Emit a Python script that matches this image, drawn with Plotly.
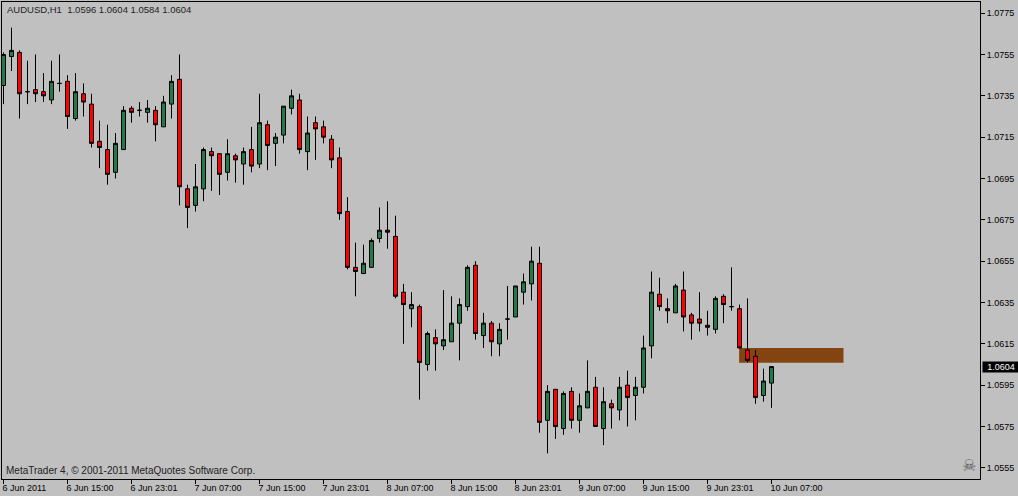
import plotly.graph_objects as go

opens = [1.0740,1.0754,1.0756,1.0737,1.0738,1.0737,1.0733,1.0741,1.0742,1.0724,1.0736,1.0731,1.0713,1.0709,1.0698,1.0709,1.0729,1.0728,1.0727,1.0728,
         1.0720,1.0731,1.0743,1.0690,1.0682,1.0690,1.0708,1.0707,1.0698,1.0706,1.0702,1.0709,1.0702,1.0721,1.0712,1.0716,1.0729,1.0733,1.0708,1.0722,
         1.0720,1.0714,1.0705,1.0679,1.0652,1.0649,1.0652,1.0666,1.0670,1.0667,1.0640,1.0632,1.0633,1.0605,1.0618,1.0614,1.0616,1.0625,1.0633,1.0653,
         1.0619,1.0625,1.0615,1.0627,1.0628,1.0640,1.0644,1.0654,1.0578,1.0593,1.0574,1.0592,1.0578,1.0584,1.0594,1.0574,1.0586,1.0583,1.0595,1.0590,
         1.0594,1.0614,1.0639,1.0632,1.0630,1.0641,1.0629,1.0627,1.0624,1.0622,1.0638,1.0633,1.0632,1.0612,1.0609,1.0590,1.0596]
highs = [1.0756,1.0768,1.0757,1.0752,1.0755,1.0746,1.0752,1.0755,1.0745,1.0746,1.0741,1.0736,1.0723,1.0721,1.0717,1.0730,1.0730,1.0732,1.0733,1.0730,
         1.0735,1.0745,1.0755,1.0692,1.0702,1.0710,1.0710,1.0707,1.0714,1.0707,1.0710,1.0720,1.0736,1.0723,1.0717,1.0730,1.0738,1.0736,1.0725,1.0725,
         1.0723,1.0716,1.0710,1.0686,1.0664,1.0663,1.0666,1.0681,1.0684,1.0677,1.0644,1.0640,1.0634,1.0621,1.0622,1.0641,1.0638,1.0637,1.0653,1.0655,
         1.0630,1.0626,1.0625,1.0643,1.0643,1.0649,1.0662,1.0662,1.0595,1.0593,1.0592,1.0594,1.0591,1.0607,1.0599,1.0594,1.0588,1.0599,1.0602,1.0599,
         1.0619,1.0650,1.0647,1.0637,1.0644,1.0650,1.0630,1.0640,1.0631,1.0638,1.0639,1.0652,1.0634,1.0637,1.0612,1.0603,1.0604]
lows = [1.0731,1.0747,1.0724,1.0731,1.0732,1.0732,1.0731,1.0737,1.0719,1.0723,1.0725,1.0710,1.0700,1.0692,1.0695,1.0709,1.0722,1.0725,1.0722,1.0713,
        1.0720,1.0724,1.0682,1.0671,1.0679,1.0684,1.0689,1.0687,1.0694,1.0693,1.0692,1.0698,1.0700,1.0699,1.0701,1.0712,1.0726,1.0707,1.0699,1.0704,
        1.0712,1.0700,1.0675,1.0651,1.0638,1.0649,1.0652,1.0664,1.0661,1.0637,1.0615,1.0623,1.0588,1.0602,1.0602,1.0612,1.0616,1.0607,1.0631,1.0617,
        1.0613,1.0609,1.0609,1.0617,1.0628,1.0634,1.0636,1.0572,1.0562,1.0569,1.0571,1.0574,1.0572,1.0584,1.0575,1.0566,1.0574,1.0578,1.0575,1.0578,
        1.0591,1.0608,1.0631,1.0625,1.0630,1.0621,1.0617,1.0621,1.0619,1.0620,1.0625,1.0631,1.0613,1.0606,1.0586,1.0587,1.0584]
closes = [1.0755,1.0757,1.0736,1.0737,1.0736,1.0735,1.0742,1.0741,1.0725,1.0737,1.0732,1.0712,1.0710,1.0697,1.0712,1.0728,1.0727,1.0728,1.0729,1.0721,
          1.0732,1.0742,1.0691,1.0681,1.0691,1.0709,1.0706,1.0697,1.0707,1.0704,1.0708,1.0701,1.0722,1.0711,1.0715,1.0730,1.0735,1.0709,1.0717,1.0719,
          1.0715,1.0704,1.0678,1.0652,1.0650,1.0654,1.0665,1.0670,1.0669,1.0638,1.0634,1.0634,1.0606,1.0620,1.0615,1.0617,1.0625,1.0634,1.0652,1.0620,
          1.0625,1.0616,1.0622,1.0627,1.0643,1.0645,1.0655,1.0577,1.0592,1.0575,1.0591,1.0578,1.0585,1.0592,1.0575,1.0587,1.0584,1.0594,1.0589,1.0594,
          1.0613,1.0640,1.0633,1.0631,1.0643,1.0628,1.0625,1.0625,1.0623,1.0637,1.0634,1.0633,1.0613,1.0607,1.0589,1.0597,1.0604]
bars = list(range(len(opens)))

time_ticks = [0, 8, 16, 24, 32, 40, 48, 56, 64, 72, 80, 88, 96]
time_labels = ["6 Jun 2011", "6 Jun 15:00", "6 Jun 23:01", "7 Jun 07:00", "7 Jun 15:00", "7 Jun 23:01",
               "8 Jun 07:00", "8 Jun 15:00", "8 Jun 23:01", "9 Jun 07:00", "9 Jun 15:00", "9 Jun 23:01", "10 Jun 07:00"]
price_ticks = [1.0555, 1.0575, 1.0595, 1.0615, 1.0635, 1.0655, 1.0675, 1.0695, 1.0715, 1.0735, 1.0755, 1.0775]
last_price = 1.0604
zone_bars = [91.95, 105]
zone_prices = [1.06058, 1.0613]

FONT = "Liberation Sans"
fig = go.Figure(go.Candlestick(
    x=bars, open=opens, high=highs, low=lows, close=closes,
    increasing=dict(line=dict(color="black", width=1), fillcolor="#217A4C"),
    decreasing=dict(line=dict(color="black", width=1), fillcolor="#FF0000"),
    whiskerwidth=0, showlegend=False, hoverinfo="skip",
))
fig.add_shape(type="rect", xref="x", yref="y", x0=zone_bars[0], x1=zone_bars[1], y0=zone_prices[0], y1=zone_prices[1],
              fillcolor="#844411", line=dict(width=0), layer="below")
fig.update_layout(
    width=1018, height=496, autosize=False,
    margin=dict(l=2, r=38, t=2, b=17, autoexpand=False),
    paper_bgcolor="#C0C0C0", plot_bgcolor="#C0C0C0",
    font=dict(family=FONT, size=10, color="black"),
    boxgap=0.5, boxgroupgap=0, showlegend=False,
    title=dict(text="AUDUSD,H1  1.0596 1.0604 1.0584 1.0604", x=7/1018, xanchor="left", xref="container",
               y=1-10/496, yanchor="middle", yref="container", font=dict(family=FONT, size=9.5, color="#222222")),
    xaxis=dict(range=[-0.1875, 122.0625], rangeslider=dict(visible=False), tickmode="array",
               tickvals=time_ticks, ticktext=time_labels, ticks="outside", ticklen=4, tickwidth=1, tickcolor="black",
               ticklabelposition="outside right", ticklabelshift=-2, tickangle=0, showgrid=False, zeroline=False,
               showline=True, linecolor="black", linewidth=1, mirror=True,
               tickfont=dict(family=FONT, size=9, color="black")),
    yaxis=dict(range=[1.05496, 1.07804], side="right", tickmode="array", tickvals=price_ticks,
               tickformat=".4f", ticks="outside", ticklen=4, tickwidth=1, tickcolor="black", showgrid=False, zeroline=False,
               showline=True, linecolor="black", linewidth=1, mirror=True,
               tickfont=dict(family=FONT, size=9, color="black")),
    annotations=[
        dict(text="MetaTrader 4, © 2001-2011 MetaQuotes Software Corp.", xref="paper", yref="paper",
             x=0.002, y=0.018, xanchor="left", yanchor="middle", showarrow=False, font=dict(family=FONT, size=10, color="#222222")),
        dict(text="☠", xref="paper", yref="paper", x=0.9885, y=0.029, xanchor="center", yanchor="middle",
             showarrow=False, font=dict(family="DejaVu Sans", size=16, color="#5a5a5a")),
        dict(text=f"{last_price:.4f}", xref="paper", yref="y", x=1, y=last_price, xanchor="left", yanchor="middle",
             xshift=2, showarrow=False, bgcolor="black", font=dict(family=FONT, size=9, color="white"),
             borderpad=0, width=36, height=10, align="center"),
    ],
)
fig.write_html("out.html", post_script="document.body.style.margin='0';document.body.style.overflow='hidden';",
               config=dict(displayModeBar=False))
